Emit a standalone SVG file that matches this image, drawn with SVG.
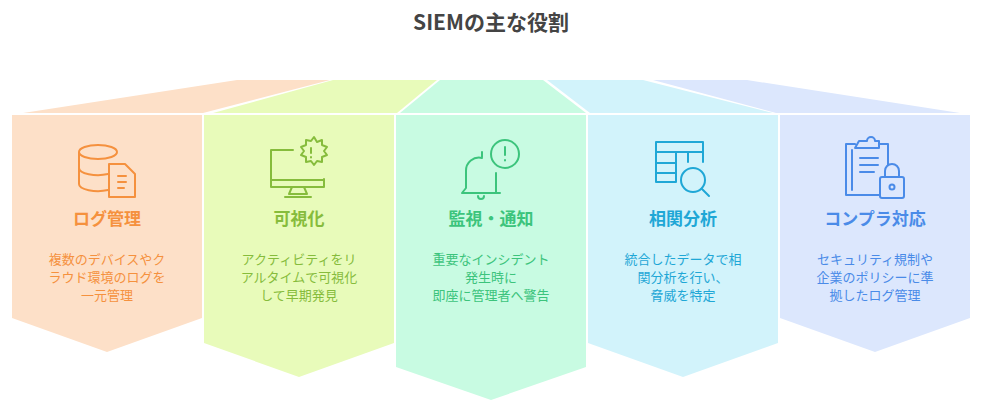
<svg xmlns="http://www.w3.org/2000/svg" width="983" height="411" viewBox="0 0 983 411">
<style>
text{font-family:"Noto Sans CJK JP","Liberation Sans",sans-serif;text-anchor:middle}
.t{font-size:17px;font-weight:bold}
.d{font-size:13px}
.ic{fill:none;stroke-width:2;stroke-linecap:round;stroke-linejoin:round}
</style>
<rect width="983" height="411" fill="#fff"/>
<text x="491" y="30" font-size="21" font-weight="bold" fill="#444">SIEMの主な役割</text>
<g id="flaps">
<polygon points="23,113 237,80 330,80 203,113" fill="#FDE0C8"/>
<polygon points="213,113 333,80 437,80 397,113" fill="#E8FBBA"/>
<polygon points="400,113 440,80 543,80 586,113" fill="#C8FBE2"/>
<polygon points="547,80 643,80 773,113 590,113" fill="#D2F3FB"/>
<polygon points="653,80 747,80 960,113 776,113" fill="#DCE7FD"/>
</g>
<g id="n1">
<polygon points="12,115 202,115 202,318 107,352 12,318" fill="#FDE0C8"/>
<g class="ic" stroke="#F5913E">
<path d="M79,152 a19,7 0 0 0 38,0 a19,7 0 0 0 -38,0 v32 a19,7 0 0 0 29,6 M79,168 a19,7 0 0 0 29,6"/>
<path d="M109,164 h16 l10,10 v23 h-26 z M118,176 h8 M118,182 h8 M118,188 h6"/></g>
<text class="t" x="107" y="225" fill="#F5913E">ログ管理</text>
<text class="d" fill="#F5913E"><tspan x="107" y="264">複数のデバイスやク</tspan><tspan x="107" y="282">ラウド環境のログを</tspan><tspan x="107" y="300">一元管理</tspan></text>
</g>
<g id="n2">
<polygon points="204,115 394,115 394,343 299,377 204,343" fill="#E8FBBA"/>
<g class="ic" stroke="#86BC3C"><path d="M293,150 h-22 v37 h53 v-8 M271,180 h53 M292,187 l-3,7 h18 l-3,-7 M285,197 h26"/>
<path d="M311,141 l3,-4 3,5 5,-2 v5 l5,2 -3,4 3,4 -5,2 v5 l-5,-1 -3,4 -3,-4 -5,1 v-5 l-5,-2 3,-4 -3,-4 5,-2 v-5z M311,148 v5 M311,157 v0.5"/></g>
<text class="t" x="299" y="225" fill="#86BC3C">可視化</text>
<text class="d" fill="#86BC3C"><tspan x="299" y="264">アクティビティをリ</tspan><tspan x="299" y="282">アルタイムで可視化</tspan><tspan x="299" y="300">して早期発見</tspan></text>
</g>
<g id="n3">
<polygon points="396,115 586,115 586,367 491,400 396,367" fill="#C8FBE2"/>
<g class="ic" stroke="#3CC47C"><path d="M482,158 a13,13 0 0 0 -16,13 v17 l-4,5 h38 M482,152 v5 M478,196 a3,3 0 0 0 6,0"/><path d="M496,173 v20"/>
<circle cx="505" cy="154" r="14"/><path d="M505,147 v8 M505,160 v0.5"/></g>
<text class="t" x="491" y="225" fill="#3CC47C">監視・通知</text>
<text class="d" fill="#3CC47C"><tspan x="491" y="264">重要なインシデント</tspan><tspan x="491" y="282">発生時に</tspan><tspan x="491" y="300">即座に管理者へ警告</tspan></text>
</g>
<g id="n4">
<polygon points="588,115 778,115 778,343 683,377 588,343" fill="#D2F3FB"/>
<g class="ic" stroke="#1FA7D6"><path d="M676,182 h-20 v-40 h47 v20 M656,152 h47 M656,163 h20 M656,173 h20 M676,152 v30 M688,152 v10"/>
<circle cx="693" cy="180" r="12"/><path d="M702,189 l7,7"/></g>
<text class="t" x="683" y="225" fill="#1FA7D6">相関分析</text>
<text class="d" fill="#1FA7D6"><tspan x="683" y="264">統合したデータで相</tspan><tspan x="683" y="282">関分析を行い、</tspan><tspan x="683" y="300">脅威を特定</tspan></text>
</g>
<g id="n5">
<polygon points="780,115 970,115 970,318 875,352 780,318" fill="#DCE7FD"/>
<g class="ic" stroke="#4A8BE8"><path d="M855,144 h-9 v51 h33 M888,165 v-21 h-9 M855,148 h24 v-7 h-4 a4,4 0 0 0 -8,0 h-8 z M852,150 v40 M860,158 h18 M860,165 h18 M860,172 h14"/>
<rect x="880" y="177" width="24" height="21" rx="2"/><path d="M885,177 v-6 a7,7 0 0 1 14,0 v6"/><circle cx="892" cy="187" r="2.5"/></g>
<text class="t" x="875" y="225" fill="#4A8BE8">コンプラ対応</text>
<text class="d" fill="#4A8BE8"><tspan x="875" y="264">セキュリティ規制や</tspan><tspan x="875" y="282">企業のポリシーに準</tspan><tspan x="875" y="300">拠したログ管理</tspan></text>
</g>
<g id="connectors"/>
</svg>
